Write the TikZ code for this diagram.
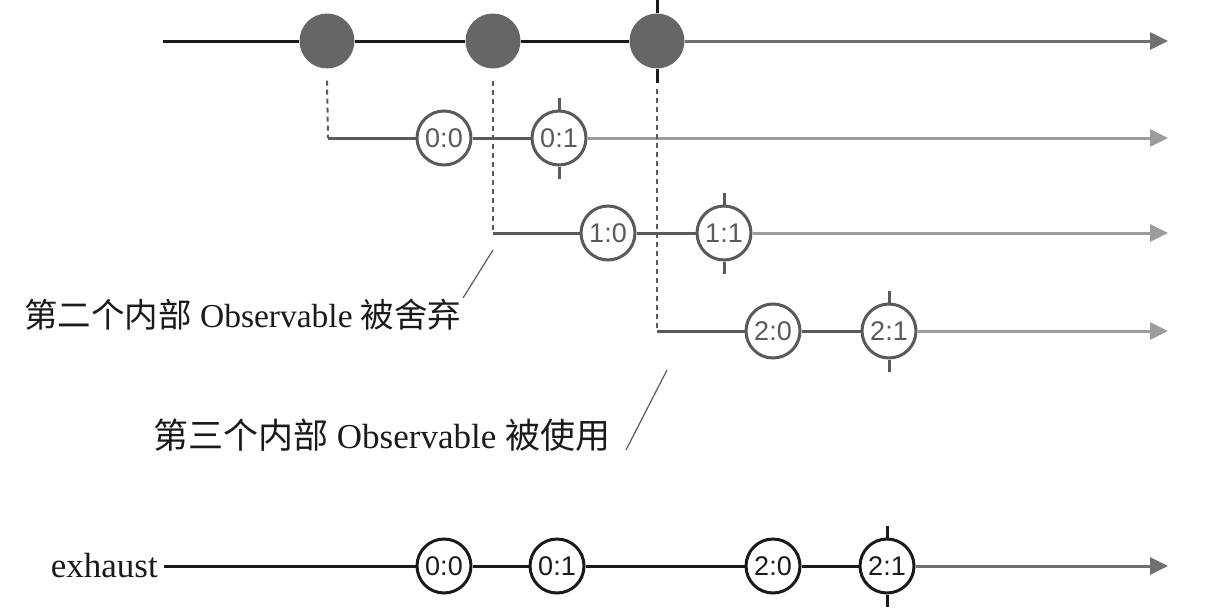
\documentclass[tikz,border=0pt]{standalone}
\usepackage{fontspec}
\setmainfont{Liberation Serif}
\newfontfamily\cjk{Noto Sans CJK SC}
\newfontfamily\marblefont{Liberation Sans}
\usetikzlibrary{arrows.meta}
\definecolor{ink}{HTML}{1A1A1A}
\definecolor{mid}{HTML}{5A5A5A}
\definecolor{pale}{HTML}{9C9C9C}
\definecolor{fillgray}{HTML}{666666}
\definecolor{toptail}{HTML}{707070}
\begin{document}
\begin{tikzpicture}[x=1pt,y=-1pt,
  tip/.style={-{Triangle[length=18pt,width=17pt]}},
  srcm/.style={circle,fill=fillgray,minimum size=55pt,inner sep=0pt},
  innm/.style={circle,draw=mid,line width=3pt,fill=white,minimum size=54pt,inner sep=0pt,text=mid,font=\marblefont\fontsize{27}{27}\selectfont},
  outm/.style={innm,draw=ink,text=ink},
  inkline/.style={draw=ink,line width=3pt},
  midline/.style={draw=mid,line width=3pt},
  paleline/.style={draw=pale,line width=3pt,tip},
  dashline/.style={draw=mid,line width=2pt,dash pattern=on 5pt off 4pt},
  note/.style={font=\fontsize{33.5}{40}\selectfont,text=ink,inner sep=0pt},
  slash/.style={draw=mid,line width=1.2pt}
]
\useasboundingbox (0,0) rectangle (1208,608);

% top source row
\coordinate (t0) at (163,41);
\coordinate (tend) at (1168,41);
\node[srcm] (t1) at (327,41) {};
\node[srcm] (t2) at (493,41) {};
\node[srcm] (t3) at (657,41) {};
\draw[inkline] (t0) -- (t1);
\draw[inkline] (t1) -- (t2);
\draw[inkline] (t2) -- (t3);
\draw[draw=toptail,line width=3pt,tip] (t3) -- (tend);
\draw[inkline] (t3.north) -- ([yshift=14pt]t3.north);
\draw[inkline] (t3.south) -- ([yshift=-14pt]t3.south);

% inner row 0
\coordinate (r1s) at (328,138);
\coordinate (r1e) at (1168,138);
\node[innm] (m00) at (444,138) {0:0};
\node[innm] (m01) at (559,138) {0:1};
\draw[midline] (r1s) -- (m00);
\draw[midline] (m00) -- (m01);
\draw[paleline] (m01) -- (r1e);
\draw[midline] (m01.north) -- ([yshift=12pt]m01.north);
\draw[midline] (m01.south) -- ([yshift=-12pt]m01.south);

% inner row 1
\coordinate (r2s) at (493,233);
\coordinate (r2e) at (1168,233);
\node[innm] (m10) at (608,233) {1:0};
\node[innm] (m11) at (724,233) {1:1};
\draw[midline] (r2s) -- (m10);
\draw[midline] (m10) -- (m11);
\draw[paleline] (m11) -- (r2e);
\draw[midline] (m11.north) -- ([yshift=12pt]m11.north);
\draw[midline] (m11.south) -- ([yshift=-12pt]m11.south);

% inner row 2
\coordinate (r3s) at (657,331);
\coordinate (r3e) at (1168,331);
\node[innm] (m20) at (773,331) {2:0};
\node[innm] (m21) at (889,331) {2:1};
\draw[midline] (r3s) -- (m20);
\draw[midline] (m20) -- (m21);
\draw[paleline] (m21) -- (r3e);
\draw[midline] (m21.north) -- ([yshift=12pt]m21.north);
\draw[midline] (m21.south) -- ([yshift=-12pt]m21.south);

% dashed drops
\draw[dashline] ([yshift=-12pt]t1.south) -- (r1s);
\draw[dashline] ([yshift=-12pt]t2.south) -- (r2s);
\draw[dashline] ([yshift=-20pt]t3.south) -- (r3s);

% annotations
\node[note,anchor=west] (n1) at (24,315) {{\cjk 第二个内部} Observable {\cjk 被舍弃}};
\coordinate (s1a) at (463,298);
\coordinate (s1b) at (493,250);
\draw[slash] (s1a) -- (s1b);
\node[note,font=\fontsize{35}{42}\selectfont,anchor=west] (n2) at (153,435) {{\cjk 第三个内部} Observable {\cjk 被使用}};
\coordinate (s2a) at (626,450);
\coordinate (s2b) at (667,370);
\draw[slash] (s2a) -- (s2b);

% exhaust row
\node[note,font=\fontsize{35}{42}\selectfont,anchor=east] (ex) at (158,566) {exhaust};
\coordinate (eend) at (1168,566);
\node[outm] (e0) at (444,566) {0:0};
\node[outm] (e1) at (557,566) {0:1};
\node[outm] (e2) at (773,566) {2:0};
\node[outm] (e3) at (887,566) {2:1};
\draw[inkline] ([xshift=6pt]ex.east) -- (e0);
\draw[inkline] (e0) -- (e1);
\draw[inkline] (e1) -- (e2);
\draw[inkline] (e2) -- (e3);
\draw[draw=toptail,line width=3pt,tip] (e3) -- (eend);
\draw[inkline] (e3.north) -- ([yshift=12pt]e3.north);
\draw[inkline] (e3.south) -- ([yshift=-12pt]e3.south);
\end{tikzpicture}
\end{document}
